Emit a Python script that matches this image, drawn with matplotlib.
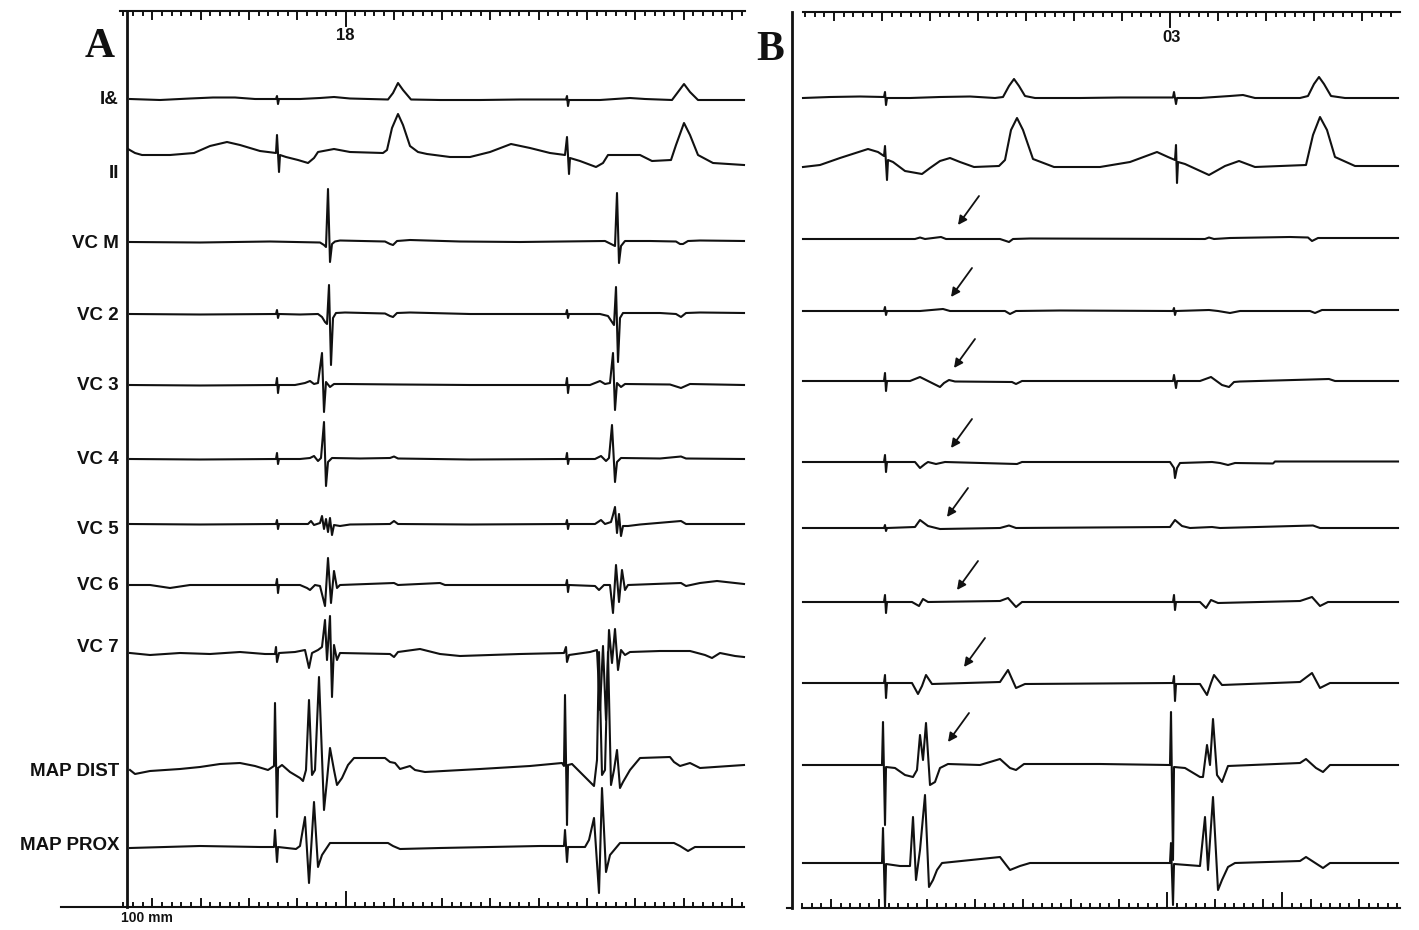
import matplotlib.pyplot as plt
import numpy as np

# intracardiac recordings, two panels.  time in ms from trace start,
# deflection in arbitrary units (positive = up)

# ---------------- panel A ----------------
a_i_t = [2, 32, 62, 85, 107, 127, 148, 149, 150, 151, 172, 192, 206, 222, 260, 265, 270, 275, 283, 312,
         352, 392, 417, 438, 439, 440, 441, 472, 502, 517, 544, 550, 556, 562, 570, 592, 616]
a_i_v = [0, -1, 0.5, 1.5, 1.5, 0, 0, 3, -5, 0, 0, 1, 2, 0.5, -0.5, 6, 16, 9, -0.5, -1,
         -1, -0.5, -0.5, -0.5, 3, -7, -1, -1, 1, 0, -1, 7, 15, 7, -1, -1, -1]

a_ii_t = [0, 7, 14, 42, 66, 82, 99, 112, 132, 148, 149, 151, 152, 158, 170, 180, 186, 190, 206, 222,
          255, 259, 264, 270, 275, 282, 290, 299, 322, 342, 362, 383, 402, 422, 437, 439, 441, 442, 452, 468,
          475, 480, 512, 524, 543, 548, 556, 562, 570, 585, 616]
a_ii_v = [5, 1, -1, -1, 1, 8, 12, 9, 3, 1, 19, -18, -1, -3, -6, -9, -4, 2, 5, 2,
          1, 4, 26, 40, 29, 8, 2, 0, -3, -3, 2, 10, 6, 1, -1, 17, -20, -4, -7, -13,
          -9, -1, -1, -7, -6, 9, 31, 19, -1, -9, -11]

a_vcm_t = [2, 72, 142, 192, 196, 198, 200, 202, 204, 207, 212, 257, 262, 265, 269, 282, 332, 392, 477, 483,
           487, 489, 491, 493, 497, 522, 548, 552, 555, 560, 572, 616]
a_vcm_v = [0, -0.5, 0.5, -0.5, -3, -5, 53, -20, -2, 0.5, 1.5, 0.5, -2, -3, 1, 2, 0.5, 0, 1, -2,
           -4, 49, -21, -4, 1, 1, 0.5, -2, -2, 1, 1.5, 1]

a_vc2_t = [2, 72, 148, 149, 150, 151, 172, 190, 194, 197, 199, 201, 203, 205, 208, 217, 257, 262, 265, 269,
           282, 342, 438, 439, 440, 441, 472, 480, 484, 486, 488, 490, 492, 495, 532, 548, 553, 558, 572, 616]
a_vc2_v = [0, -0.5, 0, 4, -4, 0, -0.5, 0, -3, -8, -10, 29, -51, -4, 1, 1.5, 0.5, -2, -3, 1,
           1.5, 0, 0, 4, -4, 0, 0, -2, -8, -11, 27, -48, -4, 1, 1, 0, -3, 1, 1.5, 1]

a_vc3_t = [2, 72, 148, 149, 150, 151, 167, 177, 182, 186, 190, 194, 196, 198, 202, 206, 217, 272, 342, 438,
           439, 440, 441, 462, 472, 477, 482, 485, 487, 489, 493, 497, 542, 553, 562, 616]
a_vc3_v = [0, -0.5, 0, 7, -8, 0, 0, 2, 4, 1, 2, 32, -27, 3, -2, 1, 1, 0.5, 0, 0,
           7, -8, 0, 0, 4, 1, 2, 32, -25, 2, -2, 1, 0.5, -3, 1, 0]

a_vc4_t = [2, 72, 148, 149, 150, 151, 172, 182, 186, 190, 193, 196, 198, 200, 204, 232, 262, 266, 270, 342,
           438, 439, 440, 441, 467, 473, 478, 481, 484, 487, 489, 493, 532, 553, 558, 616]
a_vc4_v = [0, -0.5, 0, 6, -5, 0, 0, 1, 3, -2, 1, 37, -27, -3, 1, 0.5, 1, 2.5, 0.5, -0.5,
           0, 6, -5, 0, 0, 3, -2, 1, 34, -23, -3, 1, 0.5, 2.5, 0.5, 0]

a_vc5_t = [2, 72, 148, 149, 150, 151, 180, 183, 186, 192, 194, 196, 198, 200, 202, 204, 206, 212, 222, 262,
           266, 270, 342, 438, 439, 440, 441, 467, 473, 477, 483, 485, 487, 489, 491, 493, 495, 500, 512, 553,
           558, 616]
a_vc5_v = [0, -0.5, 0, 4, -5, 0, 0, 3, -1, 1, 8, -5, 5, -8, 6, -11, -1, -2, -0.5, 0,
           3, 0, -0.5, 0, 4, -5, 0, 0, 4, 0, 2, 9, 17, -9, 10, -12, -2, -2, -0.5, 3,
           0, 0]

a_vc6_t = [2, 22, 42, 62, 148, 149, 150, 151, 172, 179, 182, 187, 192, 197, 200, 203, 206, 209, 212, 266,
           270, 312, 317, 438, 439, 440, 441, 467, 471, 476, 482, 485, 488, 491, 494, 497, 500, 553, 558, 572,
           589, 607, 616]
a_vc6_v = [0, 0, -3, 0, 0, 6, -8, 0, 0, -3, -5, 0, -1, -21, 27, -18, 14, -3, 0, 2,
           0, 2, 0, 0, 5, -7, 0, -1, -5, 0, 0, -28, 20, -17, 15, -5, 0, 2, -1, 2,
           4, 2, 1]

a_vc7_t = [2, 22, 52, 82, 112, 137, 147, 148, 149, 151, 167, 177, 181, 184, 190, 194, 197, 199, 202, 204,
           206, 209, 212, 262, 266, 270, 292, 312, 332, 392, 436, 438, 439, 441, 462, 469, 472, 475, 478, 481,
           484, 487, 490, 493, 497, 502, 532, 562, 577, 584, 592, 607, 616]
a_vc7_v = [0, -2, 0, -1, 1, -1, -1, 6, -9, 0, 1, 3, -15, 0, 3, 6, 33, -7, 37, -44,
           8, -7, 0, -1, -4, 1, 4, -1, -3, -1, 0, 6, -9, -2, 1, 3, -57, 7, -67, 23,
           -10, 24, -17, 3, -2, 1, 2, 2, -2, -5, 0, -3, -4]

a_mapd_t = [2, 7, 22, 52, 72, 92, 112, 127, 140, 146, 147, 149, 150, 154, 162, 172, 175, 178, 181, 184,
            187, 191, 196, 199, 202, 206, 209, 214, 220, 226, 257, 262, 267, 272, 282, 287, 297, 352, 402, 434,
            436, 437, 439, 440, 444, 452, 466, 469, 471, 474, 477, 480, 483, 486, 489, 492, 495, 502, 512, 542,
            546, 552, 562, 572, 616]
a_mapd_v = [-2, -6, -3, -1, 1, 4, 5, 2, -2, 2, 65, -49, 0, 3, -4, -10, -13, -2, 68, -7,
            -2, 91, -42, -12, 20, -2, -17, -10, 3, 10, 10, 6, 5, -1, 2, -2, -4, -1, 2, 5,
            2, 73, -57, 3, 4, -4, -18, 8, 116, -7, -2, 116, -17, -2, 18, -20, -14, -2, 10, 11,
            6, 2, 5, 0, 3]

a_mapp_t = [2, 72, 132, 146, 147, 149, 150, 168, 172, 177, 181, 186, 190, 194, 202, 260, 265, 272, 312, 412,
            436, 437, 439, 440, 457, 461, 466, 471, 474, 478, 482, 492, 546, 552, 560, 567, 616]
a_mapp_v = [-1, 1, 0, 0, 17, -15, 0, -2, 1, 30, -36, 45, -20, -8, 4, 4, 1, -2, -1, 1,
            1, 17, -15, 0, 0, 7, 29, -46, 59, -25, -8, 4, 4, 1, -4, 0, 0]

# ---------------- panel B ----------------
b_i_t = [0, 27, 57, 81, 82, 83, 84, 107, 137, 167, 192, 200, 206, 211, 216, 222, 232, 277, 317, 370,
         371, 373, 374, 397, 427, 440, 452, 497, 505, 511, 516, 521, 528, 542, 595]
b_i_v = [-1, 0, 0.5, 0, 5, -8, -1, -1, 0, 0.5, -1, 0, 11, 18, 11, 1, -1, -1, -0.5, -0.5,
         5, -7, -1, -1, 1, 2, -1, -1, 1, 13, 20, 13, 1, -1, -1]

b_ii_t = [0, 17, 37, 65, 75, 81, 82, 84, 85, 90, 102, 119, 127, 137, 147, 157, 171, 196, 202, 208,
          214, 220, 230, 251, 297, 327, 354, 365, 372, 373, 374, 375, 382, 406, 422, 436, 452, 503, 510, 517,
          524, 532, 552, 595]
b_ii_v = [-1, 1, 8, 17, 14, 10, 20, -14, 6, 4, -5, -8, -2, 5, 8, 4, -1, 0, 6, 36,
          48, 36, 7, -1, -1, 4, 14, 9, 6, 21, -17, 4, 2, -9, 0, 5, -1, 1, 31, 49,
          36, 9, 0, 0]

b_vcm_t = [0, 112, 117, 122, 138, 143, 197, 203, 206, 210, 227, 402, 406, 411, 427, 487, 505, 509, 515, 595]
b_vcm_v = [0, 0, 1.5, 0, 2, 0, 0, -2, -3, 0, 0.5, 0, 1.5, 0, 1, 2, 1.5, -2, 1, 1]

b_vc2_t = [0, 81, 82, 83, 84, 117, 140, 147, 202, 207, 213, 257, 370, 371, 372, 373, 406, 415, 427, 437,
           507, 512, 519, 595]
b_vc2_v = [0, 0, 4, -4, 0, 0, 2, 0, 0, -3, 0, 0.5, 0, 3, -4, 0, 1, 0, -2, 0,
           0, -2, 1, 1]

b_vc3_t = [0, 81, 82, 83, 84, 107, 117, 127, 137, 141, 146, 152, 209, 213, 219, 370, 371, 373, 374, 397,
           408, 419, 426, 431, 437, 526, 532, 595]
b_vc3_v = [0, 0, 8, -10, 0, 0, 4, -1, -6, -2, 1, -0.5, -1, -3, 0, 0, 6, -7, 0, 0,
           4, -4, -6, -1, -0.5, 2, 0, 0]

b_vc4_t = [0, 81, 82, 83, 84, 112, 117, 122, 125, 133, 142, 214, 219, 367, 371, 372, 374, 377, 409, 417,
           425, 432, 470, 472, 595]
b_vc4_v = [0, 0, 7, -10, 0, 0, -6, -2, 0, -2, 0, -2, 0, 0, -6, -16, -6, -1, 0, -1,
           -3, -1, -1.5, 0.5, 0.5]

b_vc5_t = [0, 81, 82, 83, 84, 112, 117, 125, 137, 197, 206, 213, 367, 372, 379, 387, 409, 417, 510, 517, 595]
b_vc5_v = [0, 0, 3, -3, 0, 1, 8, 2, -1, 0, 2.5, 0, 1, 8, 2, 0, 1, 0, 2.5, 0, 0]

b_vc6_t = [0, 81, 82, 83, 84, 109, 116, 120, 125, 197, 205, 213, 219, 370, 371, 372, 373, 397, 403, 408,
           415, 497, 509, 517, 525, 595]
b_vc6_v = [0, 0, 7, -11, 0, 0, -4, 3, 0, 1, 4, -5, 0, 0, 7, -8, 0, 0, -6, 2,
           -1, 1, 5, -4, 0, 0]

b_vc7_t = [0, 81, 82, 83, 84, 109, 115, 119, 123, 129, 197, 205, 213, 222, 370, 371, 372, 373, 397, 404,
           408, 411, 419, 497, 509, 517, 527, 595]
b_vc7_v = [0, 0, 8, -15, 0, 0, -11, -3, 8, -1, 1, 13, -5, -1, 0, 7, -18, -1, -1, -12,
           0, 8, -2, 1, 10, -5, 0, 0]

b_mapd_t = [0, 79, 80, 82, 83, 92, 102, 110, 114, 117, 120, 123, 127, 132, 137, 145, 177, 197, 207, 213,
            221, 297, 367, 368, 370, 371, 382, 397, 400, 404, 407, 410, 414, 419, 425, 497, 503, 513, 520, 527,
            595]
b_mapd_v = [0, 0, 43, -60, -2, -3, -10, -12, -5, 30, 5, 42, -20, -17, -3, 1, 0, 6, -3, -5,
            1, 1, 0, 53, -95, -2, -3, -12, -12, 20, 0, 46, -10, -17, -1, 2, 6, -3, -7, 0,
            0]

b_mapp_t = [0, 79, 80, 82, 83, 97, 107, 110, 113, 117, 122, 126, 130, 134, 139, 197, 207, 217, 227, 367,
            368, 370, 371, 397, 402, 405, 410, 415, 419, 425, 432, 497, 503, 520, 527, 595]
b_mapp_v = [0, 0, 35, -44, -1, -3, -3, 46, -17, 13, 68, -24, -17, -7, 0, 6, -7, -3, 0, 0,
            20, -42, -1, -3, 46, -7, 66, -27, -17, -4, 0, 2, 6, -5, 0, 0]

labels = ["I&", "II", "VC M", "VC 2", "VC 3", "VC 4", "VC 5", "VC 6", "VC 7", "MAP DIST", "MAP PROX"]
a_traces = [(a_i_t, a_i_v), (a_ii_t, a_ii_v), (a_vcm_t, a_vcm_v), (a_vc2_t, a_vc2_v), (a_vc3_t, a_vc3_v),
            (a_vc4_t, a_vc4_v), (a_vc5_t, a_vc5_v), (a_vc6_t, a_vc6_v), (a_vc7_t, a_vc7_v),
            (a_mapd_t, a_mapd_v), (a_mapp_t, a_mapp_v)]
b_traces = [(b_i_t, b_i_v), (b_ii_t, b_ii_v), (b_vcm_t, b_vcm_v), (b_vc2_t, b_vc2_v), (b_vc3_t, b_vc3_v),
            (b_vc4_t, b_vc4_v), (b_vc5_t, b_vc5_v), (b_vc6_t, b_vc6_v), (b_vc7_t, b_vc7_v),
            (b_mapd_t, b_mapd_v), (b_mapp_t, b_mapp_v)]

# arrows in panel B point at the far-field signal of channels VC M .. MAP DIST
arrow_t = [155, 148, 151, 148, 144, 154, 161, 145]
arrow_v = [14, 14, 13, 14, 11, 12, 16, 23]

# layout: vertical position of each channel's baseline (figure pixels from top)
base_a = [99, 154, 242, 314, 385, 459, 524, 585, 653, 768, 847]
base_b = [97, 166, 239, 311, 381, 462, 528, 602, 683, 765, 863]
label_y = [100, 173, 243, 315, 385, 459, 529, 585, 647, 771, 845]

W, H = 1419, 930
plt.rcParams['font.family'] = ['Liberation Sans', 'DejaVu Sans']
ink = '#111111'
lw = 1.5

fig = plt.figure(figsize=(W / 100, H / 100), dpi=100)
axA = fig.add_axes([127 / W, 0, 618 / W, 1])
axA.set_xlim(-1, 617)
axB = fig.add_axes([790 / W, 0, 612 / W, 1])
axB.set_xlim(-13, 599)
for ax in (axA, axB):
    ax.set_ylim(H, 0)
    ax.axis('off')

for (t, v), b in zip(a_traces, base_a):
    axA.plot(t, b - np.array(v), color=ink, lw=lw, solid_joinstyle='round', clip_on=False)
for (t, v), b in zip(b_traces, base_b):
    axB.plot(t, b - np.array(v), color=ink, lw=lw, solid_joinstyle='round', clip_on=False)

for name, y in zip(labels, label_y):
    axA.text(-9, y, name, ha='right', va='center', fontsize=13.5, fontweight='bold', color=ink)


def ruler(ax, t0, step, m0, m1, y, sign, lo, hi, big):
    ax.plot([lo, hi], [y, y], color=ink, lw=lw, clip_on=False)
    for m in range(m0, m1):
        t = t0 + step * m
        if t < lo or t > hi:
            continue
        ln = 4
        if m % 5 == 0:
            ln = 8
        if m in big:
            ln = 15
        ax.plot([t, t], [y, y + sign * ln], color=ink, lw=1.4, clip_on=False)


# panel A frame and rulers
axA.plot([-1, -1], [11, 907], color=ink, lw=2, clip_on=False)
ruler(axA, 24.3, 9.66, -3, 64, 11, 1, -8, 617, [20])
ruler(axA, 24.3, 9.66, -3, 64, 907, -1, -67, 616, [20])
axA.text(217, 35, "18", ha='center', va='center', fontsize=12, fontweight='bold', color=ink)
axA.text(-7, 918, "100 mm", ha='left', va='center', fontsize=10, fontweight='bold', color=ink)
axA.text(-28, 47, "A", ha='center', va='center', fontsize=30, fontweight='bold',
         family=['Liberation Serif', 'DejaVu Serif'], color=ink)

# panel B frame and rulers
axB.plot([-11, -11], [12, 908], color=ink, lw=2, clip_on=False)
axB.plot([-16, -11], [908, 908], color=ink, lw=1.5, clip_on=False)
ruler(axB, 31, 9.6, -3, 62, 12.5, 1, 0, 597, [35])
ruler(axB, 28, 9.6, -3, 62, 908, -1, -1, 597, [35, 47])
axB.text(369, 37, "03", ha='center', va='center', fontsize=12, fontweight='bold', color=ink)
axB.text(-33, 50, "B", ha='center', va='center', fontsize=30, fontweight='bold',
         family=['Liberation Serif', 'DejaVu Serif'], color=ink)

for t, v, b in zip(arrow_t, arrow_v, base_b[2:10]):
    axB.annotate('', xy=(t, b - v), xytext=(t + 21, b - v - 29),
                 arrowprops=dict(arrowstyle='-|>', lw=1.3, color=ink, mutation_scale=13,
                                 shrinkA=0, shrinkB=0))

fig.savefig('out.png', dpi=100, facecolor='white')
